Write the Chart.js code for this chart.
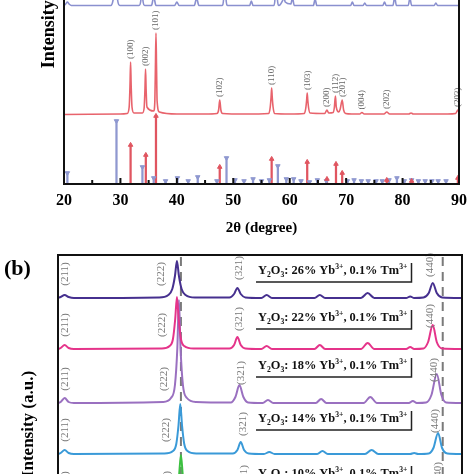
<!DOCTYPE html>
<html lang="en">
<head>
<meta charset="UTF-8">
<title>XRD patterns</title>
<script src="https://cdn.jsdelivr.net/npm/chart.js@4.4.1/dist/chart.umd.min.js"></script>
<style>
  body { margin: 0; width: 474px; height: 474px; overflow: hidden; background: #fff; position: relative; }
  canvas { position: absolute; left: 0; }
  #chartA { top: -190px; }
  #chartB { top: 240px; }
  #tagB { position: absolute; left: 4px; top: 257px; font: bold 22px 'Liberation Serif', serif; line-height: 22px; }
</style>
</head>
<body>
<canvas id="chartA" width="474" height="430"></canvas>
<canvas id="chartB" width="474" height="400"></canvas>
<div id="tagB">(b)</div>
<script>
// ---- panel (a): Y2O3 pattern (top, cut), ZnO pattern, standard cards ----
const xTicksA = [20, 30, 40, 50, 60, 70, 80, 90];

const y2o3Pattern = [[20,0.5],[20.3,2],[20.6,4],[20.9,2],[21.3,0.5],
  [28.3,0.5],[28.7,6],[28.9,40],[29.1,300],[29.3,40],[29.5,6],[29.9,0.5],
  [33.3,0.5],[33.6,5],[33.8,30],[34.0,5],[34.3,0.5],
  [35.5,0.5],[35.9,9],[36.3,0.5],
  [39.6,0.5],[40.0,4],[40.4,0.5],
  [43.1,0.5],[43.5,8],[43.9,0.5],
  [48.0,0.5],[48.3,8],[48.5,60],[48.7,8],[49.0,0.5],
  [52.9,0.5],[53.2,5],[53.5,0.5],
  [57.2,0.5],[57.4,8],[57.6,40],[57.8,8],[58.1,0.5],
  [58.8,6],[59.0,9],[59.2,4],[60.2,2],[60.5,8],[60.8,0.5],
  [64.2,0.5],[64.5,7],[64.8,0.5],
  [70.8,0.5],[71.1,4],[71.4,0.5],
  [73.0,0.5],[73.3,3],[73.6,0.5],
  [76.5,0.5],[76.8,4],[77.1,0.5],
  [78.3,0.5],[78.6,9],[78.9,0.5],
  [81.0,0.5],[81.3,8],[81.6,0.5],
  [85.6,0.5],[85.9,3],[86.2,0.5],[90,0.5]];

const znoPattern = [[20,0.5],[30,1],
  [31.2,1.5],[31.55,8],[31.7,30],[31.8,53],[31.9,30],[32.05,8],[32.4,2],
  [33.9,2],[34.2,7],[34.35,26],[34.45,46],[34.55,26],[34.7,8],
  [35.9,4],[36.1,14],[36.2,48],[36.3,82],[36.4,48],[36.5,14],[36.9,3],
  [40,1],[45,1],
  [47.1,1.5],[47.4,5],[47.6,15],[47.8,5],[48.1,1.5],
  [52,1],
  [56.3,1.5],[56.55,8],[56.7,18],[56.8,27],[56.9,18],[57.05,8],[57.3,1.5],
  [60,1],
  [62.6,1.5],[62.85,7],[63.0,15],[63.1,22],[63.2,15],[63.35,7],[63.6,2],
  [66.2,1.5],[66.6,5],[66.9,2],
  [67.7,2.5],[67.92,8],[68.1,19],[68.25,8],
  [68.7,3],[68.95,6],[69.3,15],[69.55,5],[69.9,1.5],
  [71,1],[72.4,1],[72.8,2.5],[73.2,1],
  [76.7,1],[77.2,3],[77.7,1],
  [81.1,1],[81.5,2],[81.9,1],
  [88,1],[89.4,1.5],[89.8,5],[90,3]];

const y2o3Sticks = [[20.6,11],[29.3,63],[33.9,17],[35.9,6],[38.0,3],[40.1,6],[42.0,3],[43.7,7],
  [47.1,3],[48.8,26],[50.3,4],[51.9,3],[53.5,5],[55.0,3],[56.4,4],[57.9,18],[59.4,5],[60.7,5],
  [62.0,3],[63.5,2],[64.9,4],[66.5,3],[70.2,3],[71.4,4],[72.7,3],[73.9,3],[75.3,3],[76.4,3],
  [77.6,4],[79.0,6],[80.3,3],[81.6,4],[82.8,3],[84.0,3],[85.2,3],[86.3,3],[87.7,3]];

const znoSticks = [[31.8,39],[34.5,29],[36.3,68],[47.6,17],[56.8,25],[63.1,22],[66.6,5],
  [68.2,20],[69.3,11],[77.2,4],[81.6,3],[89.8,6]];

const znoHkl = ['(100)','(002)','(101)','(102)','(110)','(103)','(200)','(112)','(201)','(004)','(202)','(203)'];
const znoHklPos = [31.8,34.45,36.3,47.6,56.8,63.1,66.6,68.1,69.3,72.8,77.2,89.8];

// ---- panel (b): Y2O3 with different Yb3+ content ----
const samples = ['26%', '22%', '18%', '14%', '10%'];

const yb26 = [[20,0],[20.2,1],[20.5,3],[20.8,1],[21.2,0],
  [27.6,0.5],[28.3,3],[28.6,9],[28.8,22],[28.95,37],[29.1,22],[29.3,9],[29.6,3],[30.3,0.5],
  [32.9,0.5],[33.25,4],[33.5,10],[33.75,4],[34.1,0.5],
  [35.3,0],[35.7,3],[36.1,0],
  [39.3,0],[39.7,3],[40.1,0],
  [42.8,0],[43.3,5],[43.8,0],
  [46.2,0],[46.5,1.5],[46.8,0],
  [47.5,0.5],[47.9,5],[48.2,15],[48.5,5],[48.9,0.5],[50.4,0]];

const yb22 = [[20,0],[20.2,1],[20.5,4],[20.8,1],[21.2,0],
  [27.8,0.5],[28.4,3],[28.65,10],[28.82,30],[28.95,52],[29.08,30],[29.25,10],[29.5,3],[30.2,0.5],
  [32.9,0.5],[33.25,4],[33.5,12],[33.75,4],[34.1,0.5],
  [35.3,0],[35.7,3],[36.1,0],
  [39.3,0],[39.7,4],[40.1,0],
  [42.8,0],[43.3,6],[43.8,0],
  [46.2,0],[46.5,2],[46.8,0],
  [47.5,0.5],[47.85,7],[48.2,24],[48.5,7],[48.9,0.5],[50.4,0]];

const yb18 = [[20,0],[20.2,1],[20.5,5],[20.8,1],[21.2,0],
  [27.9,1],[28.5,5],[28.8,18],[28.98,55],[29.1,103],[29.22,55],[29.4,18],[29.7,5],[30.4,1],
  [33.0,0.5],[33.35,6],[33.65,18],[33.95,6],[34.3,0.5],
  [35.4,0],[35.8,3],[36.2,0],
  [39.4,0],[39.8,4],[40.2,0],
  [43.0,0],[43.5,6],[44.0,0],
  [46.4,0],[46.7,2],[47.0,0],
  [47.7,0.5],[48.1,8],[48.5,29],[48.85,8],[49.2,0.5],[50.4,0]];

const yb14 = [[20,0],[20.2,1],[20.5,4],[20.8,1],[21.2,0],
  [28.0,0.5],[28.65,3],[28.9,10],[29.07,29],[29.2,50],[29.33,29],[29.5,10],[29.75,3],[30.4,0.5],
  [33.15,0.5],[33.5,4],[33.75,12],[34.0,4],[34.35,0.5],
  [35.5,0],[35.9,2],[36.3,0],
  [39.5,0],[39.9,3],[40.3,0],
  [43.1,0],[43.6,4],[44.1,0],
  [46.5,0],[46.8,1],[47.1,0],
  [47.9,0.5],[48.25,6],[48.6,21],[48.9,6],[49.3,0.5],[50.4,0]];

const yb10 = [[20,0],[20.2,1],[20.5,4],[20.8,1],[21.2,0],
  [28.0,0.5],[28.6,3],[28.9,10],[29.1,30],[29.25,52],[29.4,30],[29.6,10],[29.9,3],[30.5,0.5],
  [33.2,0.5],[33.55,4],[33.85,12],[34.1,4],[34.5,0.5],
  [47.9,0.5],[48.35,6],[48.75,22],[49.05,6],[49.4,0.5],[50.4,0]];

const hklB = ['(211)', '(222)', '(321)', '(440)'];
const hklPosB = [[20.5,27.75,33.6,48.0],[20.5,27.8,33.6,48.0],[20.5,28.0,33.8,48.3],
  [20.5,28.1,33.9,48.4],[20.5,28.2,34.0,48.6]];
const refLinesB = [29.25, 48.95];

// ---- styling / stacking ----
const offsetsA = { y2o3: 178, zno: 69 };
const offsetsB = [295, 244, 190, 139, 86];
const labelLiftB = [27, 31, 37, 35, 33];
const hklLiftB = [24, 24, 30, 33];
const colorsB = ['#46308f', '#e5348a', '#9a70c0', '#3a9ad8', '#3cc040'];
const seriesB = [yb26, yb22, yb18, yb14, yb10];

Chart.defaults.font.family = '"Liberation Serif", "Times New Roman", serif';
Chart.defaults.color = '#000';

const shift = (pts, off) => pts.map(p => ({ x: p[0], y: p[1] + off }));
const asXY = pts => pts.map(p => ({ x: p[0], y: p[1] }));

const framePlugin = {
  id: 'frame',
  afterDraw(chart, args, opts) {
    const { ctx, chartArea: a } = chart;
    ctx.save();
    ctx.strokeStyle = '#111';
    ctx.lineWidth = 2;
    ctx.strokeRect(a.left, a.top, a.right - a.left, a.bottom - a.top);
    if (opts.ticks) {
      const xs = chart.scales.x;
      for (let v = xs.min; v <= xs.max; v += 5) {
        const px = xs.getPixelForValue(v);
        const len = v % 10 === 0 ? 6 : 4;
        ctx.beginPath();
        ctx.moveTo(px, a.bottom);
        ctx.lineTo(px, a.bottom - len);
        ctx.stroke();
      }
    }
    ctx.restore();
  }
};

function rotText(ctx, t, x, y) {
  ctx.save();
  ctx.translate(x, y);
  ctx.rotate(-Math.PI / 2);
  ctx.fillText(t, 0, 0);
  ctx.restore();
}

const hklAPlugin = {
  id: 'hklA',
  afterDatasetsDraw(chart) {
    const { ctx } = chart;
    const xs = chart.scales.x, ys = chart.scales.y;
    ctx.save();
    ctx.font = '9px "Liberation Serif"';
    ctx.fillStyle = '#666';
    ctx.textBaseline = 'middle';
    ctx.textAlign = 'left';
    znoHkl.forEach((t, i) => {
      const x = znoHklPos[i];
      const top = Math.max(...znoPattern.filter(p => Math.abs(p[0] - x) < 0.2).map(p => p[1]));
      rotText(ctx, t, xs.getPixelForValue(x), ys.getPixelForValue(offsetsA.zno + top) - 3);
    });
    ctx.restore();
  }
};

function drawFormula(ctx, x, y, parts, size) {
  let cx = x;
  parts.forEach(([txt, pos]) => {
    const fs = pos === 0 ? size : size * 0.62;
    ctx.font = `bold ${fs}px "Liberation Serif"`;
    const dy = pos === 0 ? 0 : (pos < 0 ? size * 0.3 : -size * 0.36);
    ctx.fillText(txt, cx, y + dy);
    cx += ctx.measureText(txt).width;
  });
  return cx;
}

const refLinesPlugin = {
  id: 'refLines',
  beforeDatasetsDraw(chart) {
    const { ctx, chartArea: a } = chart;
    const xs = chart.scales.x;
    ctx.save();
    ctx.strokeStyle = '#7a7a7a';
    ctx.lineWidth = 2;
    ctx.setLineDash([9, 6]);
    refLinesB.forEach(v => {
      const px = xs.getPixelForValue(v);
      ctx.beginPath();
      ctx.moveTo(px, a.top + 2);
      ctx.lineTo(px, a.bottom);
      ctx.stroke();
    });
    ctx.restore();
  }
};

const labelsBPlugin = {
  id: 'labelsB',
  afterDatasetsDraw(chart) {
    const { ctx } = chart;
    const xs = chart.scales.x, ys = chart.scales.y;
    ctx.save();
    ctx.textBaseline = 'middle';
    samples.forEach((s, i) => {
      // hkl indices
      ctx.font = '11px "Liberation Serif"';
      ctx.fillStyle = '#777';
      ctx.textAlign = 'center';
      hklB.forEach((t, j) => {
        rotText(ctx, t, xs.getPixelForValue(hklPosB[i][j]), ys.getPixelForValue(offsetsB[i] + hklLiftB[j]));
      });
      // sample label with underline and right bar
      ctx.textAlign = 'left';
      ctx.fillStyle = '#111';
      const x0 = xs.getPixelForValue(35.05);
      const yc = ys.getPixelForValue(offsetsB[i] + labelLiftB[i]);
      drawFormula(ctx, x0, yc, [['Y', 0], ['2', -1], ['O', 0], ['3', -1], [': ' + s + ' Yb', 0], ['3+', 1], [', 0.1% Tm', 0], ['3+', 1]], 12.4);
      const xb = xs.getPixelForValue(46.6);
      ctx.strokeStyle = '#222';
      ctx.lineWidth = 1.5;
      ctx.beginPath();
      ctx.moveTo(x0 - 2, yc + 11);
      ctx.lineTo(xb, yc + 11);
      ctx.lineTo(xb, yc - 8);
      ctx.stroke();
    });
    ctx.restore();
  }
};

new Chart(document.getElementById('chartA'), {
  type: 'line',
  data: {
    datasets: [
      { data: shift(y2o3Pattern, offsetsA.y2o3), borderColor: '#8a90cf', borderWidth: 1.6, pointRadius: 0, cubicInterpolationMode: 'monotone' },
      { data: shift(znoPattern, offsetsA.zno), borderColor: '#e8636c', borderWidth: 1.6, pointRadius: 0, cubicInterpolationMode: 'monotone' },
      { type: 'scatter', data: asXY(znoSticks), pointStyle: 'triangle', pointRadius: 2.6, backgroundColor: '#e05560', borderColor: '#e05560', borderWidth: 1 },
      { type: 'scatter', data: asXY(y2o3Sticks), pointStyle: 'triangle', rotation: 180, pointRadius: 2.6, backgroundColor: '#8f98d0', borderColor: '#8f98d0', borderWidth: 1 },
      { type: 'bar', data: asXY(znoSticks), backgroundColor: '#e05560', barThickness: 1.6, grouped: false },
      { type: 'bar', data: asXY(y2o3Sticks), backgroundColor: '#8f98d0', barThickness: 1.6, grouped: false }
    ]
  },
  options: {
    responsive: false,
    animation: false,
    devicePixelRatio: 1,
    layout: { padding: { left: 36, right: 14, top: 30, bottom: 0 } },
    plugins: { legend: { display: false }, tooltip: { enabled: false }, frame: { ticks: true } },
    scales: {
      x: {
        type: 'linear', min: 20, max: 90, offset: false,
        afterBuildTicks: s => { s.ticks = xTicksA.map(v => ({ value: v })); },
        afterFit: s => { s.height = 56; },
        grid: { display: false, drawTicks: false, offset: false }, border: { display: false },
        ticks: { font: { size: 16, weight: 'bold' }, padding: 7, maxRotation: 0 },
        title: { display: true, text: '2θ (degree)', font: { size: 15, weight: 'bold' }, padding: { top: 0, bottom: 3 } }
      },
      y: {
        min: 0, max: 344,
        afterFit: s => { s.width = 28; },
        grid: { display: false, drawTicks: false }, border: { display: false },
        ticks: { display: false },
        title: { display: true, text: 'Intensity (a.u.)', font: { size: 18, weight: 'bold' }, padding: { top: 3, bottom: 0 } }
      }
    }
  },
  plugins: [framePlugin, hklAPlugin]
});

new Chart(document.getElementById('chartB'), {
  type: 'line',
  data: {
    datasets: seriesB.map((pts, i) => ({
      label: samples[i],
      data: shift(pts, offsetsB[i]),
      borderColor: colorsB[i],
      borderWidth: 2,
      pointRadius: 0,
      cubicInterpolationMode: 'monotone'
    }))
  },
  options: {
    responsive: false,
    animation: false,
    devicePixelRatio: 1,
    layout: { padding: { left: 18, right: 12, top: 15, bottom: 47 } },
    plugins: { legend: { display: false }, tooltip: { enabled: false }, frame: { ticks: false } },
    scales: {
      x: { type: 'linear', min: 20, max: 50.4, display: false },
      y: {
        min: 0, max: 338,
        afterFit: s => { s.width = 40; },
        grid: { display: false, drawTicks: false }, border: { display: false },
        ticks: { display: false },
        title: { display: true, text: 'Intensity (a.u.)', font: { size: 17, weight: 'bold' }, padding: { top: 0, bottom: 0 } }
      }
    }
  },
  plugins: [refLinesPlugin, framePlugin, labelsBPlugin]
});
</script>
</body>
</html>
